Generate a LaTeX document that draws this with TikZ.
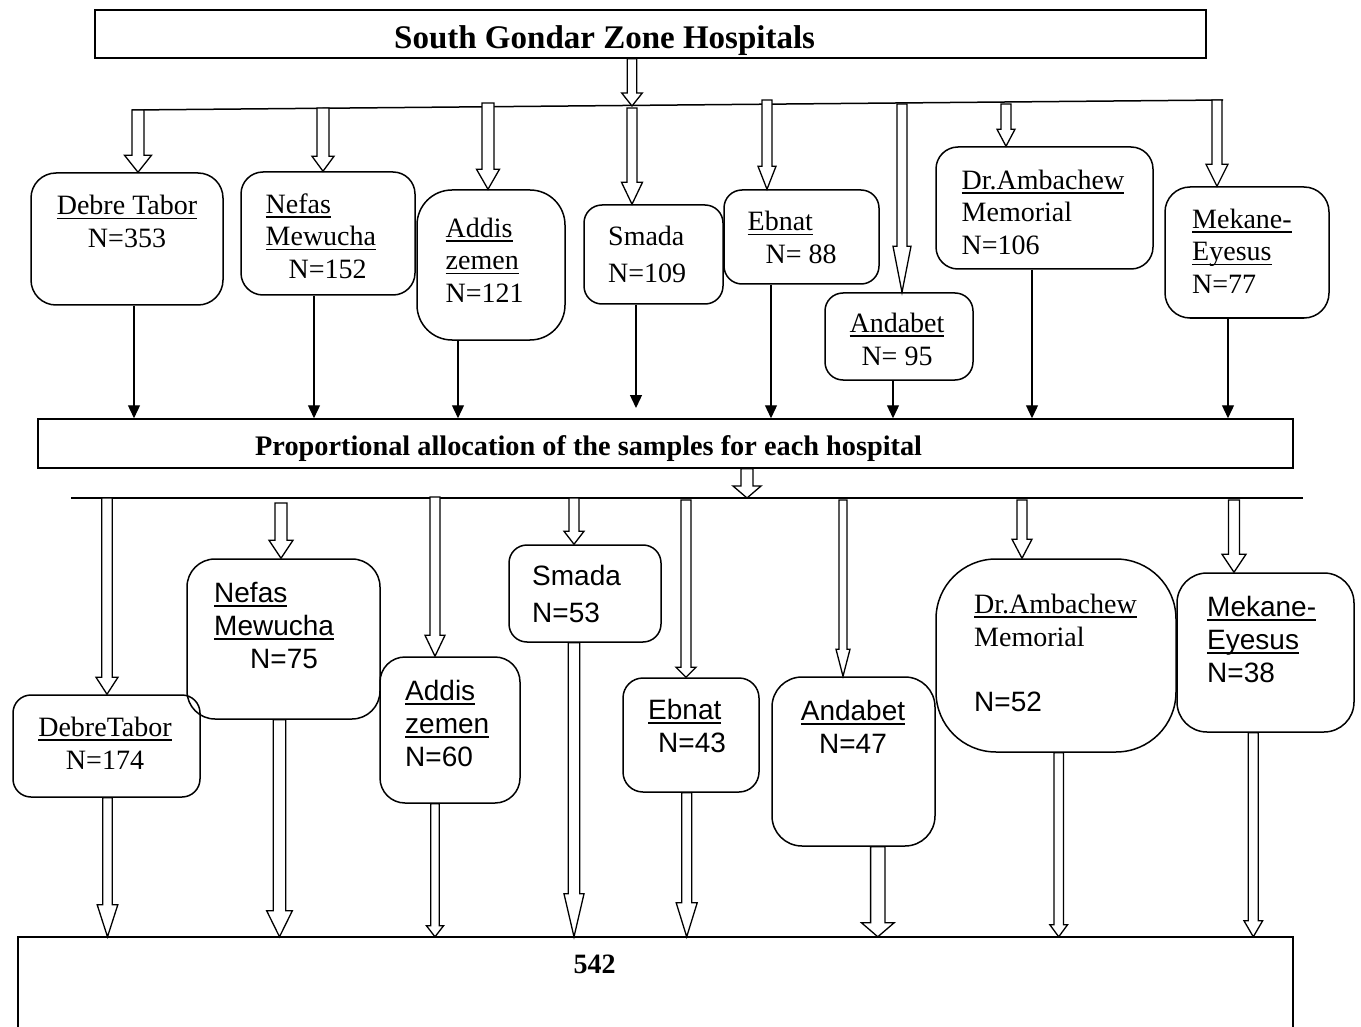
\documentclass[tikz,border=0pt]{standalone}
\usepackage{fontspec}
\setmainfont{Liberation Serif}
\newfontfamily\arialf{Liberation Sans}
\usetikzlibrary{arrows.meta,calc}
\newcommand\ulx[1]{\setbox0\hbox{#1}\rlap{\rule[-4.5pt]{\wd0}{1.5pt}}\box0}
% hollow block arrow: start, end, half shaft, half head, head length
\newcommand\harr[5]{\draw[harrow] let \p1=(#1), \p2=(#2) in
  (\x2-#3,\y1) -- (\x2-#3,\y2+#5) -- (\x2-#4,\y2+#5) -- (\x2,\y2) --
  (\x2+#4,\y2+#5) -- (\x2+#3,\y2+#5) -- (\x2+#3,\y1) -- cycle;}
\begin{document}
\begin{tikzpicture}[x=1pt,y=-1pt,
  rbox/.style={draw, line width=1.5pt, rounded corners=#1, inner sep=0pt},
  sbox/.style={draw, line width=1.5pt, inner sep=0pt},
  tnr/.style={inner sep=0pt, align=left, font=\fontsize{28}{33}\selectfont},
  ari/.style={inner sep=0pt, align=left, font=\arialf\fontsize{28}{33}\selectfont},
  harrow/.style={draw, fill=white, line width=1.3pt, line join=miter},
  tarrow/.style={draw, line width=1.3pt, -{Triangle[length=13pt,width=12pt]}},
  hline/.style={draw, line width=1.5pt}]

\fill[white] (0,0) rectangle (1361,1027);
\useasboundingbox (0,0) rectangle (1361,1027);

% ---------- main boxes ----------
\node[sbox, minimum width=1111pt, minimum height=48pt] (top) at (650.5,34) {};
\node[inner sep=0pt, anchor=base west, font=\bfseries\fontsize{33}{40}\selectfont] (ttl) at (394,49) {South Gondar Zone Hospitals};

\node[sbox, minimum width=1255pt, minimum height=49pt] (mid) at (665.5,443.5) {};
\node[inner sep=0pt, anchor=base west, font=\bfseries\fontsize{28.3}{33}\selectfont] (mtl) at (255,455) {Proportional allocation of the samples for each hospital};

\node[inner sep=0pt, minimum width=1275pt, minimum height=90pt] (bot) at (655.5,982) {};
\draw[hline] (bot.south west) -- (bot.north west) -- (bot.north east) -- (bot.south east);
\node[inner sep=0pt, anchor=base, font=\bfseries\fontsize{28}{33}\selectfont] (btl) at (594.5,973) {542};

% ---------- top hospital boxes ----------
\node[rbox=25pt, minimum width=192pt, minimum height=132pt] (b1) at (127,239) {};
\node[rbox=22pt, minimum width=174pt, minimum height=123pt] (b2) at (328,233.5) {};
\node[rbox=35pt, minimum width=148pt, minimum height=150pt] (b3) at (491,265) {};
\node[rbox=18pt, minimum width=139pt, minimum height=99pt] (b4) at (653.5,254.5) {};
\node[rbox=18pt, minimum width=155pt, minimum height=94pt] (b5) at (801.5,237) {};
\node[rbox=18pt, minimum width=148pt, minimum height=87pt] (b6) at (899,336.5) {};
\node[rbox=22pt, minimum width=217pt, minimum height=122pt] (b7) at (1044.5,208) {};
\node[rbox=25pt, minimum width=164pt, minimum height=131pt] (b8) at (1247,252.5) {};

% (base anchor = baseline of the last line)
\node[tnr, align=center, anchor=base] (tb1) at (127,248) {\ulx{Debre Tabor}\\N=353};
\node[tnr, anchor=base west] (tb2) at (265.5,279) {\ulx{Nefas}\\\ulx{Mewucha}\\\hspace*{23pt}N=152};
\node[tnr, anchor=base west] (tb3) at (445.5,303) {\ulx{Addis}\\\ulx{zemen}\\N=121};
\node[tnr, anchor=base west] (tb4) at (608,283) {Smada\\[4pt]N=109};
\node[tnr, anchor=base west] (tb5) at (747.5,264) {\ulx{Ebnat}\\\hspace*{18pt}N= 88};
\node[tnr, align=center, anchor=base] (tb6) at (897,365) {\ulx{Andabet}\\N= 95};
\node[tnr, anchor=base west] (tb7) at (961.5,255) {\ulx{Dr.Ambachew}\\Memorial\\N=106};
\node[tnr, anchor=base west] (tb8) at (1192,294) {\ulx{Mekane-}\\\ulx{Eyesus}\\N=77};

% ---------- lower hospital boxes ----------
\node[rbox=18pt, minimum width=187pt, minimum height=102pt] (c1) at (106.5,746) {};
\node[rbox=28pt, minimum width=193pt, minimum height=160pt] (c2) at (283.5,639) {};
\node[rbox=25pt, minimum width=140pt, minimum height=146pt] (c3) at (450,730) {};
\node[rbox=18pt, minimum width=152pt, minimum height=97pt] (c4) at (585,593.5) {};
\node[rbox=20pt, minimum width=136pt, minimum height=114pt] (c5) at (691,735) {};
\node[rbox=30pt, minimum width=163pt, minimum height=169pt] (c6) at (853.5,761.5) {};
\node[rbox=60pt, minimum width=240pt, minimum height=193pt] (c7) at (1056,655.5) {};
\node[rbox=30pt, minimum width=177pt, minimum height=159pt] (c8) at (1265.5,652.5) {};

\node[tnr, align=center, anchor=base] (tc1) at (105,769) {\ulx{DebreTabor}\\N=174};
\node[ari, anchor=base west] (tc2) at (214,668) {\ulx{Nefas}\\\ulx{Mewucha}\\\hspace*{36pt}N=75};
\node[ari, anchor=base west] (tc3) at (405,766) {\ulx{Addis}\\\ulx{zemen}\\N=60};
\node[ari, anchor=base west] (tc4) at (532,622) {Smada\\[4pt]N=53};
\node[ari, anchor=base west] (tc5) at (648,752) {\ulx{Ebnat}\\\hspace*{10pt}N=43};
\node[ari, align=center, anchor=base] (tc6) at (853,753) {\ulx{Andabet}\\N=47};
\node[tnr, anchor=base west] (tc7) at (974,711) {\ulx{Dr.Ambachew}\\Memorial\\[32pt]{\arialf N=52}};
\node[ari, anchor=base west] (tc8) at (1207,682) {\ulx{Mekane-}\\\ulx{Eyesus}\\N=38};

% ---------- distribution lines ----------
\coordinate (L1) at (132,110);
\coordinate (L2) at (1223,100);
\draw[hline] (L1) -- (L2);
\coordinate (M1) at (71,498);
\coordinate (M2) at (1303,498);
\draw[hline] (M1) -- (M2);

% ---------- top hollow arrows ----------
\coordinate (h0) at (632,106);
\harr{top.south -| h0}{h0}{4.7pt}{10.3pt}{13pt}
\coordinate (h1) at (138,110);
\coordinate (h2) at (323,108);
\coordinate (h3) at (488,103);
\coordinate (h4) at (632,108);
\coordinate (h5) at (767,100);
\coordinate (h6) at (902,104);
\coordinate (h7) at (1006,104);
\coordinate (h8) at (1217,100);
\harr{h1}{b1.north -| h1}{6pt}{13.5pt}{17pt}
\harr{h2}{b2.north -| h2}{6pt}{11pt}{15pt}
\harr{h3}{b3.north -| h3}{6pt}{11.5pt}{20pt}
\harr{h4}{b4.north -| h4}{5pt}{10.5pt}{22pt}
\harr{h5}{b5.north -| h5}{5pt}{9pt}{23pt}
\harr{h6}{b6.north -| h6}{5pt}{9pt}{46pt}
\harr{h7}{b7.north -| h7}{5pt}{9pt}{17pt}
\harr{h8}{b8.north -| h8}{5pt}{11pt}{22pt}

% ---------- thin arrows to allocation box ----------
\coordinate (p1) at (134,0);
\coordinate (p2) at (314,0);
\coordinate (p3) at (458,0);
\coordinate (s4) at (636,408);
\coordinate (p5) at (771,0);
\coordinate (p6) at (893,0);
\coordinate (p7) at (1032,0);
\coordinate (p8) at (1228,0);
\draw[tarrow] (b1.south -| p1) -- (mid.north -| p1);
\draw[tarrow] (b2.south -| p2) -- (mid.north -| p2);
\draw[tarrow] (b3.south -| p3) -- (mid.north -| p3);
\draw[tarrow] (b4.south -| s4) -- (s4);
\draw[tarrow] (b5.south -| p5) -- (mid.north -| p5);
\draw[tarrow] (b6.south -| p6) -- (mid.north -| p6);
\draw[tarrow] (b7.south -| p7) -- (mid.north -| p7);
\draw[tarrow] (b8.south -| p8) -- (mid.north -| p8);

% ---------- allocation to line ----------
\coordinate (m0) at (747,498);
\harr{mid.south -| m0}{m0}{6pt}{14pt}{12pt}

% ---------- lower hollow arrows ----------
\coordinate (g1) at (107,498);
\coordinate (g2) at (281,503);
\coordinate (g3) at (435,497);
\coordinate (g4) at (574,498);
\coordinate (g5) at (686,500);
\coordinate (g6) at (843,500);
\coordinate (g7) at (1022,500);
\coordinate (g8) at (1234,500);
\harr{g1}{c1.north -| g1}{5.3pt}{11pt}{17pt}
\harr{g2}{c2.north -| g2}{6pt}{12pt}{18pt}
\harr{g3}{c3.north -| g3}{5pt}{10pt}{21pt}
\harr{g4}{c4.north -| g4}{5pt}{10pt}{13pt}
\harr{g5}{c5.north -| g5}{5pt}{10pt}{10pt}
\harr{g6}{c6.north -| g6}{4pt}{7pt}{27pt}
\harr{g7}{c7.north -| g7}{5pt}{10pt}{19pt}
\harr{g8}{c8.north -| g8}{5.5pt}{12pt}{18pt}

% ---------- arrows to total ----------
\coordinate (k1) at (107.5,0);
\coordinate (k2) at (279.5,0);
\coordinate (k3) at (435,0);
\coordinate (k4) at (574,0);
\coordinate (k5) at (686.7,0);
\coordinate (k6) at (877.8,0);
\coordinate (k7) at (1058.7,0);
\coordinate (k8) at (1253.3,0);
\harr{c1.south -| k1}{bot.north -| k1}{4.8pt}{10.3pt}{32pt}
\harr{c2.south -| k2}{bot.north -| k2}{6.2pt}{12.8pt}{26pt}
\harr{c3.south -| k3}{bot.north -| k3}{4.3pt}{8.5pt}{11pt}
\harr{c4.south -| k4}{bot.north -| k4}{5.8pt}{10pt}{43pt}
\harr{c5.south -| k5}{bot.north -| k5}{5pt}{10.5pt}{34pt}
\harr{c6.south -| k6}{bot.north -| k6}{7.2pt}{16.3pt}{14pt}
\harr{c7.south -| k7}{bot.north -| k7}{4.7pt}{8.8pt}{12pt}
\harr{c8.south -| k8}{bot.north -| k8}{5pt}{9.3pt}{16pt}
\end{tikzpicture}
\end{document}
